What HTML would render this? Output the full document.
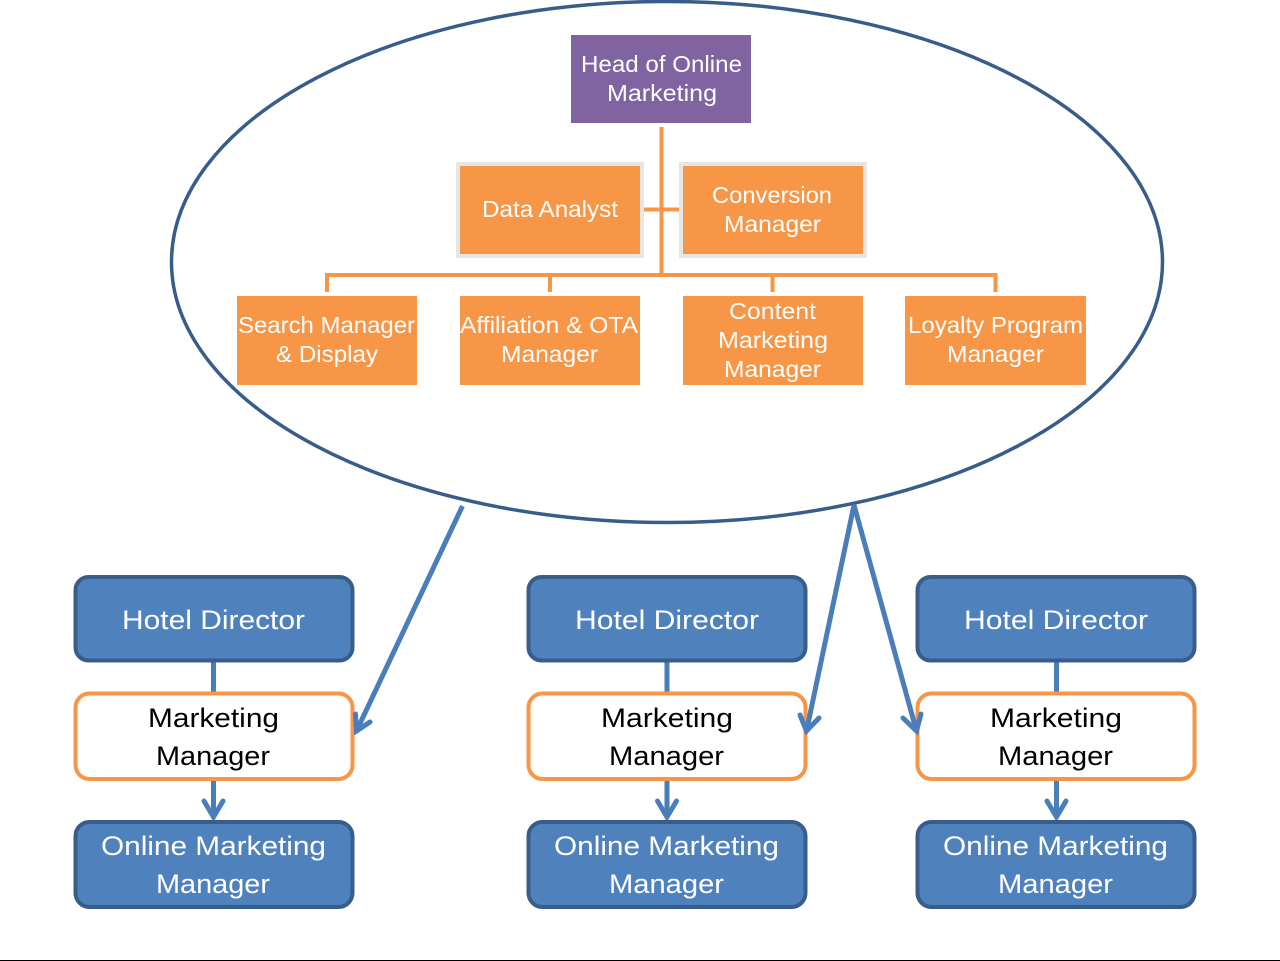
<!DOCTYPE html>
<html>
<head>
<meta charset="utf-8">
<style>
html,body{margin:0;padding:0;background:#fff;}
svg{display:block;}
text{font-family:"Liberation Sans",sans-serif;}
.w{fill:#fff;font-size:23px;}
.b{fill:#fff;font-size:27px;}
.k{fill:#000;font-size:27px;}
</style>
</head>
<body>
<svg width="1280" height="961" viewBox="0 0 1280 961" xmlns="http://www.w3.org/2000/svg">
<rect width="1280" height="961" fill="#fff"/>
<ellipse cx="667" cy="262" rx="495.5" ry="260.5" fill="#fff" stroke="#385d8a" stroke-width="3.5"/>

<!-- org connectors -->
<g stroke="#f79646" stroke-width="4" fill="none">
<path d="M661.5 127V275"/>
<path d="M644 209.500H679"/>
<path d="M327 292V275H995.500V292"/>
<path d="M550 275V292"/>
<path d="M772.500 275V292"/>
</g>

<!-- top boxes -->
<rect x="571" y="35" width="180" height="88" fill="#8064a2"/>
<rect x="458" y="164" width="184" height="92" fill="#f79646" stroke="#e6e6e6" stroke-width="4"/>
<rect x="681" y="164" width="184" height="92" fill="#f79646" stroke="#e6e6e6" stroke-width="4"/>
<rect x="237" y="296" width="180" height="89" fill="#f79646"/>
<rect x="460" y="296" width="180" height="89" fill="#f79646"/>
<rect x="683" y="296" width="180" height="89" fill="#f79646"/>
<rect x="905" y="296" width="181" height="89" fill="#f79646"/>

<text class="w" x="581" y="72" textLength="161" lengthAdjust="spacingAndGlyphs">Head of Online</text>
<text class="w" x="607" y="101" textLength="110" lengthAdjust="spacingAndGlyphs">Marketing</text>
<text class="w" x="482" y="217" textLength="136" lengthAdjust="spacingAndGlyphs">Data Analyst</text>
<text class="w" x="712" y="203" textLength="120" lengthAdjust="spacingAndGlyphs">Conversion</text>
<text class="w" x="724" y="232" textLength="97" lengthAdjust="spacingAndGlyphs">Manager</text>
<text class="w" x="238" y="333" textLength="177" lengthAdjust="spacingAndGlyphs">Search Manager</text>
<text class="w" x="276" y="362" textLength="102" lengthAdjust="spacingAndGlyphs">&amp; Display</text>
<text class="w" x="460" y="333" textLength="178" lengthAdjust="spacingAndGlyphs">Affiliation &amp; OTA</text>
<text class="w" x="501" y="362" textLength="97" lengthAdjust="spacingAndGlyphs">Manager</text>
<text class="w" x="729" y="319" textLength="87" lengthAdjust="spacingAndGlyphs">Content</text>
<text class="w" x="718" y="348" textLength="110" lengthAdjust="spacingAndGlyphs">Marketing</text>
<text class="w" x="724" y="377" textLength="97" lengthAdjust="spacingAndGlyphs">Manager</text>
<text class="w" x="908" y="333" textLength="175" lengthAdjust="spacingAndGlyphs">Loyalty Program</text>
<text class="w" x="947" y="362" textLength="97" lengthAdjust="spacingAndGlyphs">Manager</text>

<!-- column 1 -->
<g>
<path d="M213.500 660V694" stroke="#4a7ebb" stroke-width="5" fill="none"/>
<path d="M213.500 779V817" stroke="#4a7ebb" stroke-width="5" fill="none"/>
<path d="M204 801L213.500 817L223 801" stroke="#4a7ebb" stroke-width="5" stroke-linecap="round" fill="none"/>
<rect x="75.500" y="577" width="277" height="83.500" rx="13" fill="#4f81bd" stroke="#385d8a" stroke-width="4"/>
<rect x="75.500" y="693.500" width="277" height="85.500" rx="14" fill="#fff" stroke="#f79646" stroke-width="4"/>
<rect x="75.500" y="822" width="277" height="85" rx="14" fill="#4f81bd" stroke="#385d8a" stroke-width="4"/>
<text class="b" x="122" y="629" textLength="183" lengthAdjust="spacingAndGlyphs">Hotel Director</text>
<text class="k" x="148" y="727" textLength="131" lengthAdjust="spacingAndGlyphs">Marketing</text>
<text class="k" x="156" y="765" textLength="114" lengthAdjust="spacingAndGlyphs">Manager</text>
<text class="b" x="101" y="855" textLength="225" lengthAdjust="spacingAndGlyphs">Online Marketing</text>
<text class="b" x="156" y="893" textLength="114" lengthAdjust="spacingAndGlyphs">Manager</text>
</g>

<!-- column 2 -->
<g>
<path d="M667 660V694" stroke="#4a7ebb" stroke-width="5" fill="none"/>
<path d="M667 779V817" stroke="#4a7ebb" stroke-width="5" fill="none"/>
<path d="M657.500 801L667 817L676.500 801" stroke="#4a7ebb" stroke-width="5" stroke-linecap="round" fill="none"/>
<rect x="528.500" y="577" width="277" height="83.500" rx="13" fill="#4f81bd" stroke="#385d8a" stroke-width="4"/>
<rect x="528.500" y="693.500" width="277" height="85.500" rx="14" fill="#fff" stroke="#f79646" stroke-width="4"/>
<rect x="528.500" y="822" width="277" height="85" rx="14" fill="#4f81bd" stroke="#385d8a" stroke-width="4"/>
<text class="b" x="575" y="629" textLength="184" lengthAdjust="spacingAndGlyphs">Hotel Director</text>
<text class="k" x="601" y="727" textLength="132" lengthAdjust="spacingAndGlyphs">Marketing</text>
<text class="k" x="609" y="765" textLength="115" lengthAdjust="spacingAndGlyphs">Manager</text>
<text class="b" x="554" y="855" textLength="225" lengthAdjust="spacingAndGlyphs">Online Marketing</text>
<text class="b" x="609" y="893" textLength="115" lengthAdjust="spacingAndGlyphs">Manager</text>
</g>

<!-- column 3 -->
<g>
<path d="M1056.500 660V694" stroke="#4a7ebb" stroke-width="5" fill="none"/>
<path d="M1056.500 779V817" stroke="#4a7ebb" stroke-width="5" fill="none"/>
<path d="M1047 801L1056.500 817L1066 801" stroke="#4a7ebb" stroke-width="5" stroke-linecap="round" fill="none"/>
<rect x="917.500" y="577" width="277" height="83.500" rx="13" fill="#4f81bd" stroke="#385d8a" stroke-width="4"/>
<rect x="917.500" y="693.500" width="277" height="85.500" rx="14" fill="#fff" stroke="#f79646" stroke-width="4"/>
<rect x="917.500" y="822" width="277" height="85" rx="14" fill="#4f81bd" stroke="#385d8a" stroke-width="4"/>
<text class="b" x="964" y="629" textLength="184" lengthAdjust="spacingAndGlyphs">Hotel Director</text>
<text class="k" x="990" y="727" textLength="132" lengthAdjust="spacingAndGlyphs">Marketing</text>
<text class="k" x="998" y="765" textLength="115" lengthAdjust="spacingAndGlyphs">Manager</text>
<text class="b" x="943" y="855" textLength="225" lengthAdjust="spacingAndGlyphs">Online Marketing</text>
<text class="b" x="998" y="893" textLength="115" lengthAdjust="spacingAndGlyphs">Manager</text>
</g>

<!-- long arrows -->
<g stroke="#4a7ebb" stroke-width="5" fill="none">
<path d="M462.500 506L356.500 731"/>
<path d="M355.500 714L356.500 731L370 722" stroke-linecap="round"/>
<path d="M854 505L806.500 731"/>
<path d="M800 715L806.500 731L819 718" stroke-linecap="round"/>
<path d="M854 505L916.500 731"/>
<path d="M903 718L916.500 731L921 714" stroke-linecap="round"/>
</g>

<rect x="0" y="960" width="1280" height="1" fill="#000"/>
</svg>
</body>
</html>
